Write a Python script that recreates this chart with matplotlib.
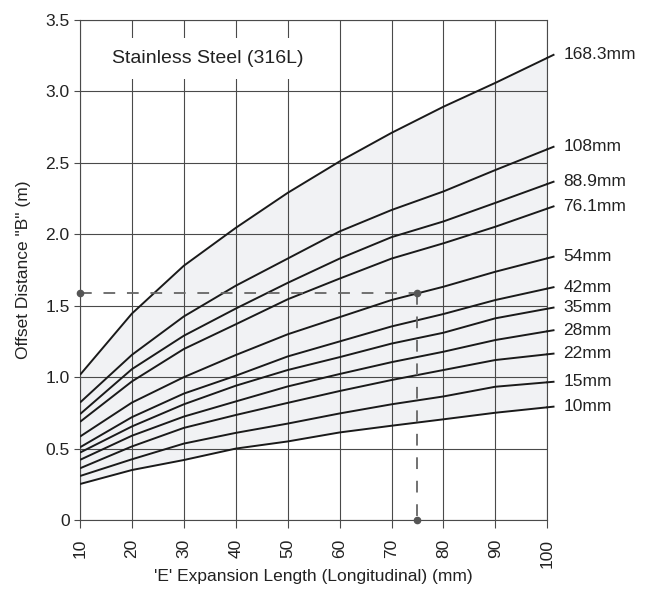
import matplotlib
matplotlib.use("Agg")
import matplotlib.pyplot as plt
import numpy as np

plt.rcParams["font.family"] = ["Liberation Sans", "DejaVu Sans"]

# expansion length (mm)
length = [10, 20, 30, 40, 50, 60, 70, 80, 90, 100]

# offset distance B (m) per pipe size
pipe_labels = ["168.3mm", "108mm", "88.9mm", "76.1mm", "54mm", "42mm",
               "35mm", "28mm", "22mm", "15mm", "10mm"]
offset = {
    "168.3mm": [1.016, 1.445, 1.78, 2.045, 2.29, 2.51, 2.71, 2.893, 3.06, 3.235],
    "108mm": [0.822, 1.156, 1.425, 1.64, 1.83, 2.02, 2.17, 2.30, 2.45, 2.595],
    "88.9mm": [0.741, 1.056, 1.29, 1.48, 1.66, 1.83, 1.98, 2.09, 2.22, 2.352],
    "76.1mm": [0.687, 0.97, 1.197, 1.37, 1.545, 1.69, 1.83, 1.937, 2.053, 2.18],
    "54mm": [0.584, 0.822, 1.0, 1.155, 1.30, 1.42, 1.54, 1.633, 1.738, 1.832],
    "42mm": [0.509, 0.72, 0.885, 1.01, 1.145, 1.25, 1.355, 1.442, 1.54, 1.62],
    "35mm": [0.472, 0.655, 0.81, 0.94, 1.05, 1.14, 1.235, 1.311, 1.412, 1.479],
    "28mm": [0.421, 0.59, 0.724, 0.83, 0.935, 1.022, 1.105, 1.178, 1.26, 1.321],
    "22mm": [0.362, 0.515, 0.645, 0.735, 0.82, 0.903, 0.98, 1.05, 1.12, 1.16],
    "15mm": [0.308, 0.425, 0.535, 0.61, 0.675, 0.746, 0.81, 0.865, 0.933, 0.964],
    "10mm": [0.252, 0.35, 0.42, 0.50, 0.55, 0.613, 0.66, 0.705, 0.751, 0.789],
}

# worked example
example_e = 75
example_b = 1.59

x_ticks = [10, 20, 30, 40, 50, 60, 70, 80, 90, 100]
y_ticks = [0, 0.5, 1.0, 1.5, 2.0, 2.5, 3.0, 3.5]
y_tick_labels = ["0", "0.5", "1.0", "1.5", "2.0", "2.5", "3.0", "3.5"]

GRID = "#4a4a4a"
TEXT = "#222222"
FS = 12.5

fig = plt.figure(figsize=(6.46, 5.90), dpi=100)
ax = fig.add_axes([0.1238, 0.1186, 0.8472 - 0.1238, 0.9661 - 0.1186])

ax.set_xlim(10, 100)
ax.set_ylim(0, 3.5)

# shaded band between smallest and largest pipe
ax.fill_between(length, offset["10mm"], offset["168.3mm"],
                color="#f1f2f4", linewidth=0, zorder=0.2)

ax.set_axisbelow(True)
ax.grid(True, color=GRID, linewidth=0.8)
for sp in ax.spines.values():
    sp.set_color(GRID)
    sp.set_linewidth(0.8)

ax.set_xticks(x_ticks)
ax.set_xticklabels([str(v) for v in x_ticks], rotation=90)
ax.set_yticks(y_ticks)
ax.set_yticklabels(y_tick_labels)
ax.tick_params(axis="x", length=6, width=0.8, color=GRID, pad=7.5,
               labelsize=FS, labelcolor=TEXT)
ax.tick_params(axis="y", length=4.5, width=0.8, color=GRID, pad=3,
               labelsize=FS, labelcolor=TEXT)

# curves, with a short leader past the right edge to the label
ext = 1.2
for name in pipe_labels:
    ys = offset[name]
    ax.plot(length, ys, color="#1a1a1a", linewidth=1.4, zorder=3,
            solid_capstyle="butt")
    slope = (ys[-1] - ys[-2]) / (length[-1] - length[-2])
    x_end = length[-1] + ext
    y_end = ys[-1] + slope * ext
    ax.plot([length[-1], x_end], [ys[-1], y_end], color="#1a1a1a",
            linewidth=1.4, clip_on=False, zorder=3)
    ax.annotate(name, xy=(x_end, y_end), xytext=(7, 0),
                textcoords="offset points", ha="left", va="center",
                fontsize=FS, color=TEXT, annotation_clip=False)

# worked example dashed guides
dash_kw = dict(color="#666666", linewidth=1.3, linestyle=(0, (6.5, 6.5)),
               zorder=4)
ax.plot([10, example_e], [example_b, example_b], **dash_kw)
ax.plot([example_e, example_e], [example_b, 0], **dash_kw)
ax.plot([10, example_e, example_e], [example_b, example_b, 0],
        linestyle="none", marker="o", markersize=4.5, color="#555555",
        clip_on=False, zorder=5)

ax.text(34.7, 3.23, "Stainless Steel (316L)", ha="center", va="center",
        fontsize=14, color=TEXT, zorder=6,
        bbox=dict(boxstyle="square,pad=0.6", facecolor="white",
                  edgecolor="none"))

ax.set_xlabel("'E' Expansion Length (Longitudinal) (mm)", fontsize=FS,
              color=TEXT, labelpad=1)
ax.set_ylabel('Offset Distance "B" (m)', fontsize=FS, color=TEXT,
              labelpad=10)

fig.savefig("out.png", dpi=100)
plt.close(fig)
